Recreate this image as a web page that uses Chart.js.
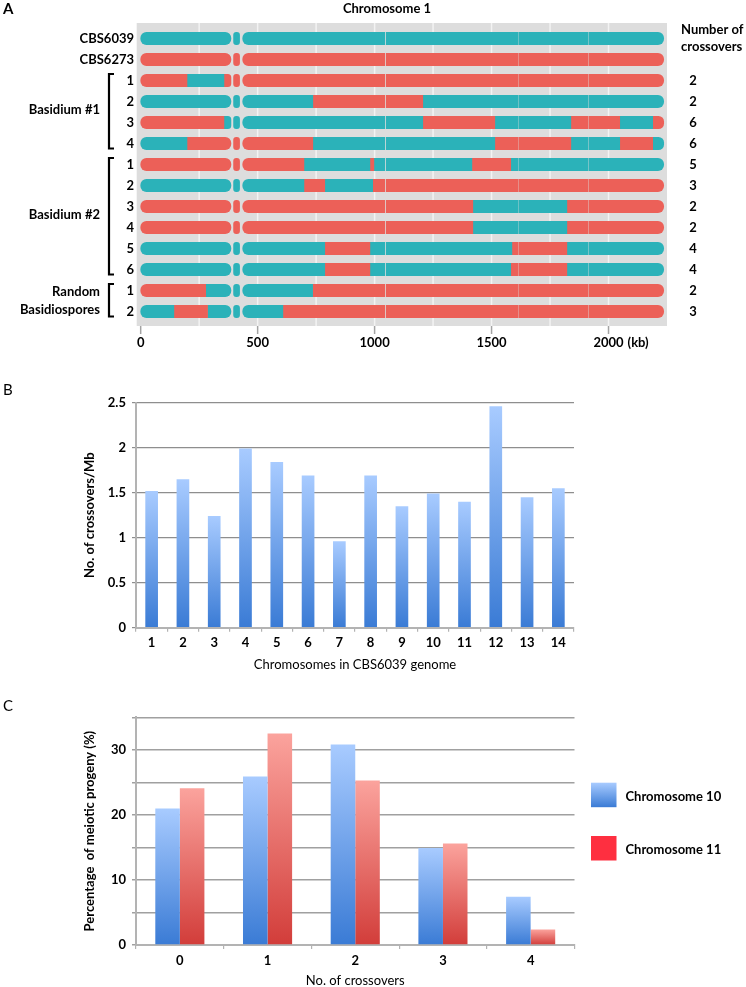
<!DOCTYPE html>
<html>
<head>
<meta charset="utf-8">
<script src="https://cdn.jsdelivr.net/npm/chart.js@4.4.1/dist/chart.umd.min.js"></script>
<style>
body{margin:0;background:#fff;width:746px;height:987px;position:relative;overflow:hidden}
canvas{position:absolute;left:0}
#chartA{top:0}
#chartB{top:375px}
#chartC{top:675px}
</style>
</head>
<body>
<canvas id="chartA" width="746" height="360"></canvas>
<canvas id="chartB" width="746" height="300"></canvas>
<canvas id="chartC" width="746" height="312"></canvas>
<script>
// ---- panel A data (kb) ----
var chromTitle = "Chromosome 1"
var rowNames = ["CBS6039","CBS6273","1","2","3","4","1","2","3","4","5","6","1","2"]
var rowStart = ["T","R","R","T","R","T","R","T","R","R","T","T","R","T"]
var rowBreaks = [
    [], [],
    [198,356],
    [736,1206],
    [356,1206,1514,1839,2048,2189],
    [198,736,1514,1839,2048,2189],
    [698,980,997,1416,1582],
    [698,787,992],
    [1420,1822],
    [1420,1822],
    [787,980,1587,1822],
    [787,980,1582,1822],
    [278,735],
    [142,286,608]
]
var crossoverCounts = [null,null,2,2,6,6,5,3,2,2,4,4,2,3]
var groupLabels = [["Basidium #1"],["Basidium #2"],["Random","Basidiospores"]]
var groupFrom = [2,6,12]
var groupTo = [5,11,13]
var chromLength = 2236
var centromere = [386,397,423,436]
var seqGaps = [[1044,1050],[1612,1616],[1912,1916]]
var kbTicks = [0,500,1000,1500,2000]
var kbGridStep = 250

// ---- panel B data ----
var chromNames = ["1","2","3","4","5","6","7","8","9","10","11","12","13","14"]
var crossoverRate = [1.52,1.65,1.24,1.99,1.84,1.69,0.96,1.69,1.35,1.49,1.40,2.46,1.45,1.55]

// ---- panel C data ----
var crossoverNumbers = ["0","1","2","3","4"]
var chr10Pct = [21.0,25.9,30.8,14.9,7.4]
var chr11Pct = [24.1,32.5,25.3,15.6,2.4]

var TEAL = "#2bb2b9", RED = "#ec6058"
var FONT = "Lato, 'Open Sans', sans-serif"
Chart.defaults.font.family = FONT
Chart.defaults.color = "#000"

// chromosome pieces between gaps
var cuts = [[centromere[0],centromere[1],true],[centromere[2],centromere[3],true]]
seqGaps.forEach(function(g){ cuts.push([g[0],g[1],false]) })
cuts.sort(function(p,q){ return p[0]-q[0] })
var pieces = []
var pos = 0, roundLeft = true
cuts.forEach(function(g){
    pieces.push({s:pos, e:g[0], rl:roundLeft, rr:g[2]})
    pos = g[1]; roundLeft = g[2]
})
pieces.push({s:pos, e:chromLength, rl:roundLeft, rr:true})

var rowSegs = rowBreaks.map(function(br, r){
    var bounds = [0].concat(br).concat([chromLength])
    var col = rowStart[r]
    var out = []
    for (var k = 0; k < bounds.length - 1; k++){
        var c = (k % 2 == 0) ? col : (col == "T" ? "R" : "T")
        pieces.forEach(function(p){
            var s = Math.max(p.s, bounds[k]), e = Math.min(p.e, bounds[k+1])
            if (e > s) out.push({s:s, e:e, color: c == "T" ? TEAL : RED,
                rl: s == p.s && p.rl, rr: e == p.e && p.rr})
        })
    }
    return out
})
var maxSegs = Math.max.apply(null, rowSegs.map(function(s){ return s.length }))
var datasetsA = []
for (var j = 0; j < maxSegs; j++){
    (function(j){
        datasetsA.push({
            data: rowSegs.map(function(s){ return s[j] ? [s[j].s, s[j].e] : null }),
            backgroundColor: rowSegs.map(function(s){ return s[j] ? s[j].color : TEAL }),
            borderRadius: function(ctx){
                var seg = rowSegs[ctx.dataIndex] && rowSegs[ctx.dataIndex][j]
                var R = 6
                if (!seg) return 0
                return {topLeft: seg.rl ? R : 0, bottomLeft: seg.rl ? R : 0,
                        topRight: seg.rr ? R : 0, bottomRight: seg.rr ? R : 0}
            },
            borderSkipped: false,
            grouped: false,
            barThickness: 12.5,
            inflateAmount: 0.3
        })
    })(j)
}

var panelAText = {
    id: "panelAText",
    beforeDatasetsDraw: function(chart){
        var c = chart.ctx, a = chart.chartArea, xs = chart.scales.x
        c.save()
        c.fillStyle = "#dddddd"
        c.fillRect(a.left, a.top - 5, a.right - a.left, a.bottom - a.top + 9)
        c.strokeStyle = "#f3f3f3"
        c.lineWidth = 1.5
        for (var v = kbGridStep; v <= kbTicks[kbTicks.length-1]; v += kbGridStep){
            var px = xs.getPixelForValue(v)
            c.beginPath(); c.moveTo(px, a.top - 5); c.lineTo(px, a.bottom + 4); c.stroke()
        }
        c.restore()
    },
    afterDraw: function(chart){
        var c = chart.ctx, a = chart.chartArea, xs = chart.scales.x, ys = chart.scales.y
        c.save()
        c.fillStyle = "#000"
        c.font = "bold 15px " + FONT
        c.textAlign = "left"; c.textBaseline = "middle"
        c.fillText("A", 3, 9)
        c.font = "bold 13px " + FONT
        c.textAlign = "center"
        c.fillText(chromTitle, 387, 9)
        c.textAlign = "right"
        rowNames.forEach(function(n, i){ c.fillText(n, 134, ys.getPixelForValue(i)) })
        groupLabels.forEach(function(lines, g){
            var y0 = ys.getPixelForValue(groupFrom[g]), y1 = ys.getPixelForValue(groupTo[g])
            var mid = (y0 + y1) / 2
            lines.forEach(function(t, k){
                c.fillText(t, 100, mid + (k - (lines.length - 1) / 2) * 18 - (lines.length == 1 ? 2 : 0))
            })
            c.lineWidth = 2.2; c.strokeStyle = "#000"
            c.beginPath()
            c.moveTo(114, y0 - 6.5); c.lineTo(109, y0 - 6.5); c.lineTo(109, y1 + 5); c.lineTo(114, y1 + 5)
            c.stroke()
        })
        c.textAlign = "left"
        c.fillText("Number of", 681, 30)
        c.fillText("crossovers", 681, 47)
        c.textAlign = "center"
        crossoverCounts.forEach(function(n, i){
            if (n !== null) c.fillText(String(n), 693, ys.getPixelForValue(i))
        })
        c.strokeStyle = "#a3a3a3"; c.lineWidth = 1.5
        kbTicks.forEach(function(v){
            var px = xs.getPixelForValue(v)
            c.beginPath(); c.moveTo(px, a.bottom + 4); c.lineTo(px, a.bottom + 12); c.stroke()
        })
        var last = kbTicks[kbTicks.length - 1]
        c.textAlign = "left"
        c.fillText("(kb)", xs.getPixelForValue(last) + c.measureText(String(last)).width / 2 + 4, a.bottom + 21)
        c.restore()
    }
}

new Chart(document.getElementById("chartA"), {
    type: "bar",
    data: {labels: rowNames, datasets: datasetsA},
    options: {
        indexAxis: "y",
        responsive: false,
        animation: false,
        layout: {padding: {left: 136.7, right: 79, top: 28, bottom: 0}},
        plugins: {legend: {display: false}, tooltip: {enabled: false}},
        scales: {
            x: {
                type: "linear", min: -17, max: 2250,
                grid: {display: false, drawTicks: false},
                border: {display: false},
                afterBuildTicks: function(s){ s.ticks = kbTicks.map(function(v){ return {value: v} }) },
                afterFit: function(s){ s.height = 38 },
                ticks: {autoSkip: false, padding: 13, maxRotation: 0,
                    callback: function(v){ return String(v) },
                    font: {size: 13, weight: "bold"}, color: "#000"}
            },
            y: {type: "category", display: false, offset: true}
        }
    },
    plugins: [panelAText]
})

// ---- gradient helper for B and C ----
function barGradient(light, dark){
    return function(ctx){
        var chart = ctx.chart
        if (!chart.chartArea || ctx.raw === undefined) return dark
        var ys = chart.scales.y
        var top = ys.getPixelForValue(ctx.raw), bot = ys.getPixelForValue(0)
        var g = chart.ctx.createLinearGradient(0, top, 0, bot)
        g.addColorStop(0, light)
        g.addColorStop(1, dark)
        return g
    }
}
var BLUE_L = "#a8cbff", BLUE_D = "#3a7bd5", RED_L = "#fba39d", RED_D = "#d23d3a"

function panelLetter(letter, y){
    return {
        id: "letter" + letter,
        afterDraw: function(chart){
            var c = chart.ctx
            c.save()
            c.fillStyle = "#000"
            c.font = "15px " + FONT
            c.textAlign = "left"; c.textBaseline = "middle"
            c.fillText(letter, 3, y)
            c.restore()
        }
    }
}

var tickFont = {size: 13, weight: "bold"}

new Chart(document.getElementById("chartB"), {
    type: "bar",
    data: {
        labels: chromNames,
        datasets: [{
            data: crossoverRate,
            backgroundColor: barGradient(BLUE_L, BLUE_D),
            barPercentage: 0.405,
            categoryPercentage: 1
        }]
    },
    options: {
        responsive: false,
        animation: false,
        layout: {padding: {left: 0, right: 172, top: 27.7, bottom: 0}},
        plugins: {legend: {display: false}, tooltip: {enabled: false}},
        scales: {
            x: {
                grid: {drawOnChartArea: false, tickLength: 4, color: "#b3b3b3", lineWidth: 1.2},
                border: {color: "#b3b3b3", width: 2},
                ticks: {padding: 3.5, font: tickFont, color: "#000"},
                title: {display: true, text: "Chromosomes in CBS6039 genome",
                    font: {size: 13}, padding: {top: 0, bottom: 2.2}},
                afterFit: function(s){ s.height = 47.3 }
            },
            y: {
                min: 0, max: 2.5,
                ticks: {stepSize: 0.5, padding: 6, font: tickFont, color: "#000",
                    callback: function(v){ return String(v) }},
                grid: {color: "#8e8e8e", lineWidth: 1.2, tickLength: 4},
                border: {color: "#b3b3b3", width: 2},
                title: {display: true, text: "No. of crossovers/Mb",
                    font: {size: 13, weight: "bold"}, padding: {top: 82.2, bottom: 0}},
                afterFit: function(s){ s.width = 136 }
            }
        }
    },
    plugins: [panelLetter("B", 15)]
})

var legendC = {
    id: "legendC",
    afterDraw: function(chart){
        var c = chart.ctx, a = chart.chartArea
        var fills = [null, "#fe2f40"]
        c.save()
        chart.data.datasets.forEach(function(ds, i){
            var x = a.right + 16.5, y = 107.7 + i * 53.3
            if (fills[i]) {
                c.fillStyle = fills[i]
            } else {
                var g = c.createLinearGradient(0, y, 0, y + 24.5)
                g.addColorStop(0, BLUE_L); g.addColorStop(1, BLUE_D)
                c.fillStyle = g
            }
            c.fillRect(x, y, 25.5, 24.5)
            c.fillStyle = "#000"
            c.font = "bold 13px " + FONT
            c.textAlign = "left"; c.textBaseline = "middle"
            c.fillText(ds.label, x + 34.5, y + 14)
        })
        c.restore()
    }
}

new Chart(document.getElementById("chartC"), {
    type: "bar",
    data: {
        labels: crossoverNumbers,
        datasets: [
            {label: "Chromosome 10", data: chr10Pct, backgroundColor: barGradient(BLUE_L, BLUE_D),
                barPercentage: 1, categoryPercentage: 0.56},
            {label: "Chromosome 11", data: chr11Pct, backgroundColor: barGradient(RED_L, RED_D),
                barPercentage: 1, categoryPercentage: 0.56}
        ]
    },
    options: {
        responsive: false,
        animation: false,
        layout: {padding: {left: 0, right: 171.5, top: 42.3, bottom: 0}},
        plugins: {legend: {display: false}, tooltip: {enabled: false}},
        scales: {
            x: {
                grid: {drawOnChartArea: false, tickLength: 4, color: "#b3b3b3", lineWidth: 1.2},
                border: {color: "#b3b3b3", width: 2},
                ticks: {padding: 4.2, font: tickFont, color: "#000"},
                title: {display: true, text: "No. of crossovers",
                    font: {size: 13, lineHeight: 1.0}, padding: {top: 0, bottom: 0}},
                afterFit: function(s){ s.height = 42 }
            },
            y: {
                min: 0, max: 35,
                ticks: {stepSize: 5, padding: 6, font: tickFont, color: "#000",
                    callback: function(v){ return v % 10 === 0 ? String(v) : "" }},
                grid: {color: "#a0a0a0", lineWidth: 1.5, tickLength: 4},
                border: {color: "#b3b3b3", width: 2},
                title: {display: true, text: "Percentage  of meiotic progeny (%)",
                    font: {size: 13, weight: "bold"}, padding: {top: 82.2, bottom: 0}},
                afterFit: function(s){ s.width = 136 }
            }
        }
    },
    plugins: [panelLetter("C", 31), legendC]
})
</script>
</body>
</html>
